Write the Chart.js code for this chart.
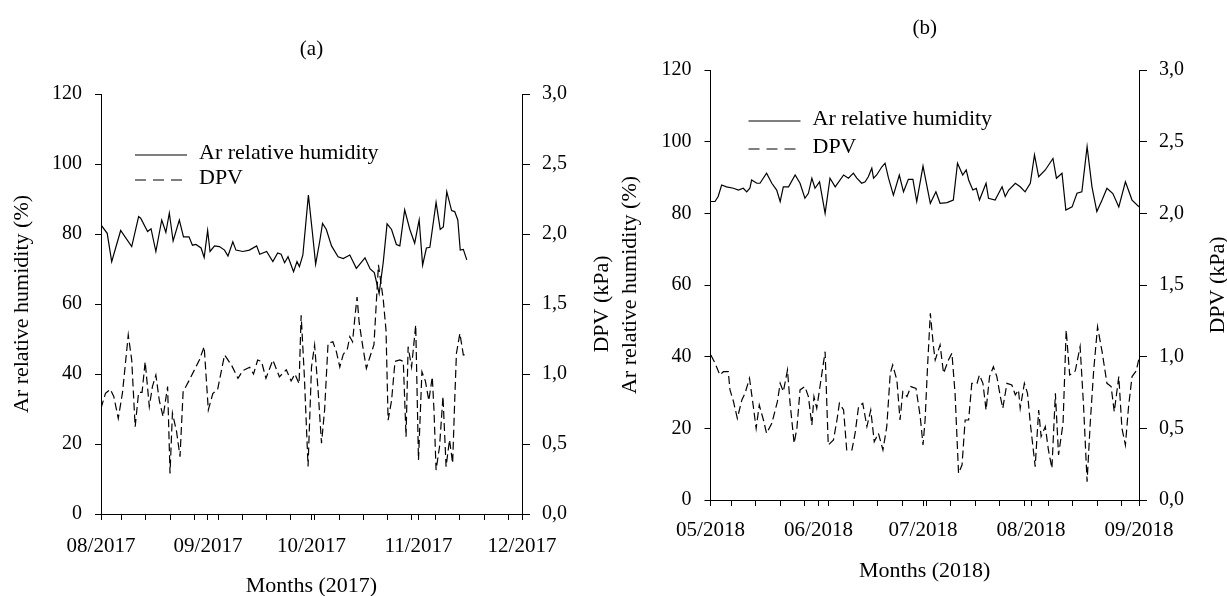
<!DOCTYPE html>
<html>
<head>
<meta charset="utf-8">
<script src="https://cdn.jsdelivr.net/npm/chart.js@4.4.1/dist/chart.umd.min.js"></script>
<style>
  html, body { margin: 0; padding: 0; background: #fff; }
  #wrap { position: relative; width: 1227px; height: 596px; overflow: hidden; }
  canvas { position: absolute; top: 0; }
  #chart-a { left: 0; }
  #chart-b { left: 613px; }
</style>
</head>
<body>
<div id="wrap">
  <canvas id="chart-a" width="613" height="596"></canvas>
  <canvas id="chart-b" width="614" height="596"></canvas>
</div>
<script>
// days counted from the first day of the first month on each x axis
const monthDaysA = [0, 31, 61, 92, 122];
const monthLabelsA = ['08/2017', '09/2017', '10/2017', '11/2017', '12/2017'];
const monthDaysB = [0, 31, 61, 92, 123];
const monthLabelsB = ['05/2018', '06/2018', '07/2018', '08/2018', '09/2018'];
const firstMondayA = 6;   // 07/08/2017
const firstMondayB = 6;   // 07/05/2018

// (a) 2017
const rhDaysA = [0,1.8,3.1,5.7,8.9,10.9,11.5,13.5,14.5,15.9,17.6,18.8,19.8,20.9,22.7,23.9,25.5,26.5,27.5,29,
  29.9,30.9,31.6,32.9,34.3,35.8,36.8,38.2,39.1,41.1,43,45.1,46,48,49.8,51.2,52.2,53.2,54.2,55.8,
  56.8,57.5,58.5,60.1,61.2,62.2,63.4,64.2,65.3,66.8,68.7,70.2,72.1,74,76.5,78,79.2,79.9,80.6,81.8,
  82.9,84.2,85.6,86.6,88,89.5,90.9,92.2,93.2,94.3,95.3,97.1,98.3,99.2,100.2,101.6,102.5,103.4,104.1,105,106];
const rhA = [82.6,80.2,72.1,81,76.4,85,84.5,80.7,81.5,75,84,80.5,86,78,84,79.2,79.2,76.8,77,76,
  73.3,81,75,76.6,76.4,75.4,73.7,77.8,75.4,75,75.4,76.6,74.2,75,72.1,74.6,74.2,71.8,73.5,69.2,
  72.1,70.7,74,91.1,81,71.4,78,83,81.3,76.6,73.5,73,74,70.2,73.2,70,69,66,63,72,
  82.9,81.3,77,76.6,86.9,81.3,77.4,84,71.1,76,76.2,89,81.3,82,92.1,86.7,86.4,84,75.4,75.6,72.6];

const dpvDaysA = [0,1.3,2.7,3.7,5,6.2,6.6,7.9,8.9,9.9,10.9,11.9,12.8,14,14.9,15.9,16.9,18,19.3,20,
  20.7,21.9,22.9,23.8,25.6,27.5,28.5,29.9,31.1,32.4,33.8,35.8,37.8,39.7,41.1,43.1,44.2,45.4,46.5,47.8,
  49.8,51.7,53.7,55.1,56.2,57.4,58,58.9,60,61,61.9,62.9,63.9,64.8,65.8,67.2,68.2,69.2,70.2,71.4,
  72.1,72.9,73.5,74.2,74.8,75.9,76.9,77.9,79.1,80.4,81.8,82.6,83.2,84.2,85.2,86.6,87.6,88.4,89,90,
  91.2,92,93,94,95,96,96.5,97.1,98.1,99.1,100,101,101.9,102.5,103,104,105,106];
const dpvA = [.755,.862,.89,.84,.683,.862,.957,1.279,1.1,.624,.869,.869,1.088,.767,.91,.993,.81,.695,.91,.29,
  .72,.588,.41,.874,.957,1.05,1.1,1.195,.743,.86,.89,1.136,1.064,.969,1.024,1.048,1.0,1.1,1.09,.969,
  1.1,.98,1.03,.95,1.0,.93,1.42,1.0,.34,1.05,1.207,.886,.505,.743,1.22,1.23,1.16,1.05,1.14,1.18,
  1.266,1.23,1.386,1.55,1.37,1.19,1.04,1.12,1.21,1.78,1.53,1.31,.67,.81,1.09,1.1,1.09,.552,1.195,1.05,
  1.35,.386,1.016,.95,.81,.98,.74,.314,.48,.84,.338,.53,.362,.81,1.148,1.29,1.136,1.14];

// (b) 2018
const rhDaysB = [0,1.3,2.2,3.2,4.6,6.6,8,9.4,10.4,11.3,11.8,13.3,14.2,16.1,17.6,19,20,20.9,22.4,24.3,
  25.7,27.1,28.1,29.1,30,31.3,32.9,34.3,35.8,38.2,39.6,41,42,43.4,44.4,45.3,46.3,46.8,47.7,49.2,
  50.1,51.1,52.5,54.2,55.4,56.8,58.1,59.2,61,63.1,64.7,65.9,67.9,69.7,70.9,72.4,73.4,74.1,75.3,76.3,
  77.2,79.1,79.8,81.7,83.7,84.6,85.6,87.5,88.9,90.3,91.8,93,94.2,96.1,98.3,99.3,100.9,102,103.8,105.2,
  106.6,108.1,109.5,110.9,112.4,113.8,115.5,117.2,119.1,121,123];
const rhB = [83.3,83.3,84.7,87.9,87.4,87,86.5,87,86,87,89.3,88.4,88.4,91.2,88.4,86.5,83.3,87.4,87.4,90.7,
  88.4,84.2,85.6,89.8,87,88.8,80,89.8,87.4,90.7,89.8,91.2,89.8,88.4,88.8,90.2,92.6,89.8,90.7,93,
  94,89.8,85.1,90.7,86,89.5,89.5,83.3,93.2,82.8,86,82.8,83,83.7,94,90.7,92.1,89.3,86.5,87,
  83.7,88.4,84.2,83.7,87.4,84.7,86.5,88.4,87.4,86,88.4,96.3,90.2,92.1,95.3,89.8,91.2,80.9,81.8,85.6,
  86,98.6,87.4,80.5,83.7,87,85.5,81.8,88.8,83.7,81.8];

const dpvDaysB = [0.1,1.3,2.7,3.7,5.1,5.6,6.6,7.7,9,9.9,11.2,12.3,13.1,14,15.2,16.1,17.6,19.2,20,20.9,
  22.1,22.8,24,24.8,25.7,27.1,28.1,29.1,29.7,30.5,31.7,32.9,33.4,33.8,35.3,36.3,37,38.2,39.1,40.6,
  41.5,42.5,43.7,44.9,46,47,48.2,49.5,50.6,51.6,52.3,53.5,54.4,55.2,56.4,57.5,59,60.2,61,61.6,
  62.3,63.1,64,64.5,65.9,66.9,68.3,69.3,70.2,71.2,72.2,73.1,74.1,75,76.5,77.2,78.2,79.1,80.1,81.2,
  82.2,83.2,83.9,85.1,86.5,87.5,88.4,88.9,90.1,91,91.8,93.2,94.2,94.9,96.1,97,98,99,99.9,101.2,
  102.1,103.1,104.7,106.1,107.1,108.1,109,110,111.1,112.4,113.8,115,115.9,117.2,118.1,119.1,120,121,122.2,123];
const dpvB = [1.012,.954,.872,.895,.895,.768,.686,.57,.698,.744,.849,.651,.5,.663,.558,.465,.535,.686,.814,.756,
  .907,.686,.396,.5,.768,.791,.721,.523,.721,.64,.837,1.035,.663,.384,.419,.558,.675,.628,.349,.349,
  .465,.651,.675,.512,.628,.407,.465,.349,.512,.884,.942,.837,.558,.756,.721,.791,.779,.581,.384,.558,
  .93,1.303,1.07,.977,1.082,.884,.977,1.024,.744,.186,.244,.558,.558,.814,.814,.872,.814,.628,.861,.93,
  .861,.721,.64,.814,.802,.733,.768,.64,.814,.744,.535,.233,.628,.442,.512,.349,.221,.744,.314,.535,
  1.186,.872,.9,1.07,.651,.128,.535,.907,1.209,1.035,.814,.791,.616,.861,.5,.384,.651,.861,.9,.989];

const SERIF = '"Liberation Serif", "Times New Roman", serif';
Chart.defaults.font.family = SERIF;
Chart.defaults.color = '#000';

const toPoints = (xs, ys) => xs.map((x, i) => ({ x, y: ys[i] }));

// panel title, in-plot legend and the right axis title (reads bottom to top)
const panelDecor = {
  id: 'panelDecor',
  afterDraw(chart, args, opts) {
    const { ctx, chartArea: a } = chart;
    ctx.save();
    ctx.fillStyle = '#000';
    ctx.strokeStyle = '#000';
    ctx.font = '21px ' + SERIF;
    ctx.textBaseline = 'middle';
    ctx.textAlign = 'center';
    ctx.fillText(opts.title, (a.left + a.right) / 2, opts.titleY);

    ctx.font = '22px ' + SERIF;
    const y2 = chart.scales.y2;
    ctx.save();
    ctx.translate(y2.right - opts.rightTitleOffset, (y2.top + y2.bottom) / 2);
    ctx.rotate(-Math.PI / 2);
    ctx.fillText('DPV (kPa)', 0, 0);
    ctx.restore();

    ctx.textAlign = 'left';
    chart.data.datasets.forEach((ds, i) => {
      const y = a.top + opts.legendY[i];
      const x0 = a.left + opts.legendX;
      ctx.beginPath();
      ctx.lineWidth = 1.2;
      ctx.setLineDash(ds.borderDash ? [11, 7] : []);
      ctx.moveTo(x0, y);
      ctx.lineTo(x0 + 52, y);
      ctx.stroke();
      ctx.setLineDash([]);
      ctx.fillText(ds.label, x0 + 64, y - 2);
    });
    ctx.restore();
  }
};

function makePanel(id, p) {
  const axisLine = { display: true, color: '#000', width: 1 };
  new Chart(document.getElementById(id), {
    type: 'line',
    data: {
      datasets: [
        {
          label: 'Ar relative humidity',
          data: toPoints(p.rhDays, p.rh),
          yAxisID: 'y',
          borderColor: '#000',
          borderWidth: 1.2,
          pointRadius: 0,
          tension: 0
        },
        {
          label: 'DPV',
          data: toPoints(p.dpvDays, p.dpv),
          yAxisID: 'y2',
          borderColor: '#000',
          borderWidth: 1.2,
          borderDash: [8, 4],
          pointRadius: 0,
          tension: 0
        }
      ]
    },
    options: {
      responsive: false,
      animation: false,
      devicePixelRatio: 1,
      layout: { padding: { top: p.top, left: 0, right: 0, bottom: 0 } },
      plugins: {
        legend: { display: false },
        tooltip: { enabled: false },
        panelDecor: {
          title: p.title, titleY: p.titleY, legendX: p.legendX, legendY: p.legendY,
          rightTitleOffset: p.rightTitleOffset
        }
      },
      scales: {
        x: {
          type: 'linear',
          min: 0,
          max: p.months[p.months.length - 1],
          border: axisLine,
          grid: { drawOnChartArea: false, drawTicks: true, tickLength: 6, color: '#000' },
          afterBuildTicks: scale => {
            const vals = new Set(p.months);
            for (let d = p.firstMonday; d < scale.max; d += 7) vals.add(d);
            scale.ticks = [...vals].sort((a, b) => a - b).map(v => ({ value: v }));
          },
          afterFit: scale => { scale.height = p.xHeight; },
          ticks: {
            autoSkip: false,
            maxRotation: 0,
            padding: p.xTickPad,
            font: { size: 21 },
            callback: v => {
              const i = p.months.indexOf(v);
              return i >= 0 ? p.monthLabels[i] : '';
            }
          },
          title: {
            display: true,
            text: p.xTitle,
            font: { size: 22, lineHeight: 1 },
            padding: { top: 0, bottom: p.xTitlePad }
          }
        },
        y: {
          position: 'left',
          min: 0,
          max: 120,
          border: axisLine,
          grid: { drawOnChartArea: false, drawTicks: true, tickLength: 6, color: '#000' },
          afterFit: scale => { scale.width = p.leftWidth; },
          ticks: { stepSize: 20, padding: 13, font: { size: 20 } },
          title: {
            display: true,
            text: 'Ar relative humidity (%)',
            font: { size: 22, lineHeight: 1 },
            padding: { top: p.leftTitlePad, bottom: 0 }
          }
        },
        y2: {
          position: 'right',
          min: 0,
          max: 3,
          border: axisLine,
          grid: { drawOnChartArea: false, drawTicks: true, tickLength: 8, color: '#000' },
          afterFit: scale => { scale.width = p.rightWidth; },
          ticks: {
            stepSize: 0.5,
            padding: 12,
            font: { size: 20 },
            callback: v => v.toFixed(1).replace('.', ',')
          },
          title: { display: false }
        }
      }
    },
    plugins: [panelDecor]
  });
}

makePanel('chart-a', {
  rhDays: rhDaysA, rh: rhA, dpvDays: dpvDaysA, dpv: dpvA,
  months: monthDaysA, monthLabels: monthLabelsA, firstMonday: firstMondayA,
  title: '(a)', titleY: 49, legendX: 34, legendY: [61, 86],
  xTitle: 'Months (2017)',
  top: 94, xHeight: 82, leftWidth: 101, rightWidth: 91,
  xTickPad: 14, xTitlePad: -1, leftTitlePad: 11, rightTitleOffset: 11
});

makePanel('chart-b', {
  rhDays: rhDaysB, rh: rhB, dpvDays: dpvDaysB, dpv: dpvB,
  months: monthDaysB, monthLabels: monthLabelsB, firstMonday: firstMondayB,
  title: '(b)', titleY: 28, legendX: 38, legendY: [51, 79],
  xTitle: 'Months (2018)',
  top: 70, xHeight: 96, leftWidth: 97.5, rightWidth: 88,
  xTickPad: 12, xTitlePad: 14, leftTitlePad: 6, rightTitleOffset: 9
});
</script>
</body>
</html>
